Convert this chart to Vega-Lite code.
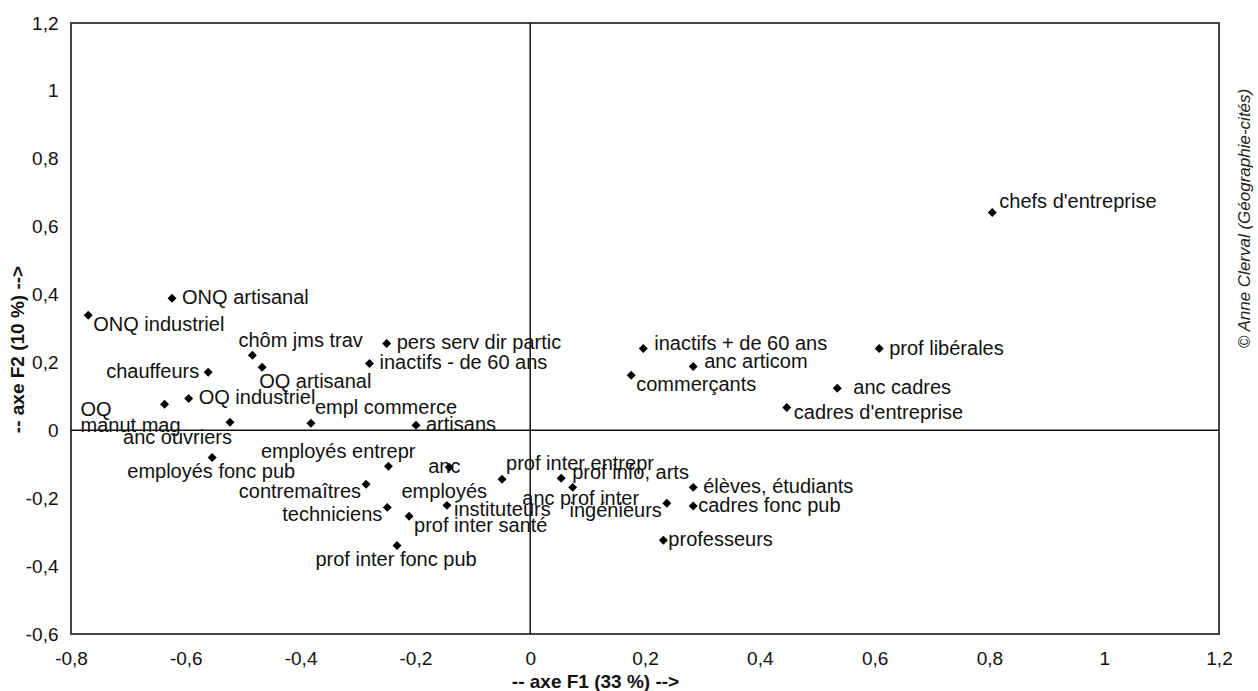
{
  "$schema": "https://vega.github.io/schema/vega-lite/v6.json",
  "autosize": "none",
  "width": 1148,
  "height": 611,
  "padding": {"left": 71, "top": 23, "right": 39, "bottom": 57},
  "background": "white",
  "title": {
    "text": "© Anne Clerval (Géographie-cités)",
    "orient": "right",
    "anchor": "middle",
    "frame": "group",
    "angle": 270,
    "baseline": "middle",
    "align": "center",
    "offset": -4,
    "dx": 110,
    "font": "Liberation Sans",
    "fontStyle": "italic",
    "fontWeight": "normal",
    "fontSize": 17,
    "color": "#222"
  },
  "datasets": {
    "pts": [
      {"label": "ONQ artisanal", "F1": -0.624, "F2": 0.389},
      {"label": "ONQ industriel", "F1": -0.77, "F2": 0.339},
      {"label": "chôm jms trav", "F1": -0.484, "F2": 0.221},
      {"label": "OQ artisanal", "F1": -0.467, "F2": 0.186},
      {"label": "chauffeurs", "F1": -0.561, "F2": 0.171},
      {"label": "pers serv dir partic", "F1": -0.25, "F2": 0.256},
      {"label": "inactifs - de 60 ans", "F1": -0.28, "F2": 0.197},
      {"label": "OQ\nmanut mag", "F1": -0.637, "F2": 0.077},
      {"label": "OQ industriel", "F1": -0.595, "F2": 0.094},
      {"label": "anc ouvriers", "F1": -0.523, "F2": 0.024},
      {"label": "empl commerce", "F1": -0.382, "F2": 0.021},
      {"label": "artisans", "F1": -0.199, "F2": 0.015},
      {"label": "employés fonc pub", "F1": -0.554, "F2": -0.08},
      {"label": "employés entrepr", "F1": -0.247, "F2": -0.106},
      {"label": "contremaîtres", "F1": -0.286, "F2": -0.159},
      {"label": "anc\nemployés", "F1": -0.141, "F2": -0.109},
      {"label": "techniciens", "F1": -0.249, "F2": -0.227},
      {"label": "prof inter santé", "F1": -0.211, "F2": -0.253},
      {"label": "instituteurs", "F1": -0.145, "F2": -0.221},
      {"label": "prof inter fonc pub", "F1": -0.232, "F2": -0.339},
      {"label": "prof inter entrepr", "F1": -0.049, "F2": -0.144},
      {"label": "prof info, arts", "F1": 0.054, "F2": -0.141},
      {"label": "anc prof inter", "F1": 0.074, "F2": -0.168},
      {"label": "ingénieurs", "F1": 0.238, "F2": -0.215},
      {"label": "élèves, étudiants", "F1": 0.284, "F2": -0.168},
      {"label": "cadres fonc pub", "F1": 0.284, "F2": -0.223},
      {"label": "professeurs", "F1": 0.232, "F2": -0.324},
      {"label": "inactifs + de 60 ans", "F1": 0.197, "F2": 0.241},
      {"label": "anc articom", "F1": 0.284, "F2": 0.188},
      {"label": "commerçants", "F1": 0.176, "F2": 0.162},
      {"label": "cadres d'entreprise", "F1": 0.447, "F2": 0.067},
      {"label": "anc cadres", "F1": 0.535, "F2": 0.124},
      {"label": "prof libérales", "F1": 0.608, "F2": 0.241},
      {"label": "chefs d'entreprise", "F1": 0.805, "F2": 0.642}
    ],
    "xticks": [
      {"t": -0.6}, {"t": -0.4}, {"t": -0.2}, {"t": 0.2}, {"t": 0.4}, {"t": 0.6}, {"t": 0.8}, {"t": 1.0}
    ],
    "yticks": [
      {"t": -0.4}, {"t": -0.2}, {"t": 0.2}, {"t": 0.4}, {"t": 0.6}, {"t": 0.8}, {"t": 1.0}
    ],
    "zero": [{"z": 0}]
  },
  "data": {"name": "pts"},
  "encoding": {
    "x": {
      "field": "F1",
      "type": "quantitative",
      "scale": {"domain": [-0.8, 1.2], "nice": false, "zero": false},
      "axis": {
        "values": [-0.8, -0.6, -0.4, -0.2, 0, 0.2, 0.4, 0.6, 0.8, 1, 1.2],
        "format": ".1~f",
        "labelExpr": "replace(replace(datum.label, '.', ','), '\u2212', '-')",
        "grid": false,
        "domain": false,
        "ticks": false,
        "labelFlush": false,
        "labelOverlap": false,
        "labelPadding": 15,
        "title": "-- axe F1 (33 %) -->",
        "titleX": 524,
        "titleY": 47,
        "titleBaseline": "middle"
      }
    },
    "y": {
      "field": "F2",
      "type": "quantitative",
      "scale": {"domain": [-0.6, 1.2], "nice": false, "zero": false},
      "axis": {
        "values": [-0.6, -0.4, -0.2, 0, 0.2, 0.4, 0.6, 0.8, 1, 1.2],
        "format": ".1~f",
        "labelExpr": "replace(replace(datum.label, '.', ','), '\u2212', '-')",
        "grid": false,
        "domain": false,
        "ticks": false,
        "labelFlush": false,
        "labelOverlap": false,
        "labelPadding": 13,
        "title": "-- axe F2 (10 %) -->",
        "titleX": -54,
        "titleY": 326,
        "titleBaseline": "middle",
        "titleAngle": 270
      }
    }
  },
  "layer": [
    {
      "data": {"name": "zero"},
      "mark": {"type": "rule", "color": "#111", "strokeWidth": 1.5},
      "encoding": {"x": {"field": "z", "type": "quantitative"}, "y": null}
    },
    {
      "data": {"name": "zero"},
      "mark": {"type": "rule", "color": "#111", "strokeWidth": 1.5},
      "encoding": {"y": {"field": "z", "type": "quantitative"}, "x": null}
    },
    {
      "data": {"name": "xticks"},
      "mark": {"type": "tick", "orient": "vertical", "color": "#111", "size": 9, "thickness": 1.5},
      "encoding": {"x": {"field": "t", "type": "quantitative"}, "y": {"datum": 0, "type": "quantitative"}}
    },
    {
      "data": {"name": "yticks"},
      "mark": {"type": "tick", "orient": "horizontal", "color": "#111", "size": 9, "thickness": 1.5},
      "encoding": {"y": {"field": "t", "type": "quantitative"}, "x": {"datum": 0, "type": "quantitative"}}
    },
    {
      "mark": {"type": "point", "shape": "diamond", "filled": true, "color": "#000", "size": 80, "opacity": 1}
    },
    {
      "transform": [{"filter": {"field": "label", "oneOf": ["ONQ artisanal", "pers serv dir partic", "inactifs - de 60 ans", "OQ industriel", "artisans", "élèves, étudiants", "prof libérales"]}}],
      "mark": {"type": "text", "align": "left", "baseline": "middle", "dx": 10, "dy": 0},
      "encoding": {"text": {"field": "label"}}
    },
    {
      "transform": [{"filter": {"field": "label", "oneOf": ["prof info, arts", "anc articom", "inactifs + de 60 ans"]}}],
      "mark": {"type": "text", "align": "left", "baseline": "middle", "dx": 11, "dy": -5},
      "encoding": {"text": {"field": "label"}}
    },
    {
      "transform": [{"filter": {"field": "label", "oneOf": ["cadres fonc pub", "professeurs"]}}],
      "mark": {"type": "text", "align": "left", "baseline": "middle", "dx": 5, "dy": 0},
      "encoding": {"text": {"field": "label"}}
    },
    {
      "transform": [{"filter": {"field": "label", "oneOf": ["instituteurs", "cadres d'entreprise"]}}],
      "mark": {"type": "text", "align": "left", "baseline": "middle", "dx": 7, "dy": 5},
      "encoding": {"text": {"field": "label"}}
    },
    {
      "transform": [{"filter": {"field": "label", "oneOf": ["ONQ industriel", "commerçants", "prof inter santé"]}}],
      "mark": {"type": "text", "align": "left", "baseline": "middle", "dx": 5, "dy": 10},
      "encoding": {"text": {"field": "label"}}
    },
    {
      "transform": [{"filter": {"field": "label", "oneOf": ["OQ artisanal"]}}],
      "mark": {"type": "text", "align": "left", "baseline": "middle", "dx": -3, "dy": 15},
      "encoding": {"text": {"field": "label"}}
    },
    {
      "transform": [{"filter": {"field": "label", "oneOf": ["empl commerce", "prof inter entrepr"]}}],
      "mark": {"type": "text", "align": "left", "baseline": "middle", "dx": 4, "dy": -15},
      "encoding": {"text": {"field": "label"}}
    },
    {
      "transform": [{"filter": {"field": "label", "oneOf": ["chefs d'entreprise"]}}],
      "mark": {"type": "text", "align": "left", "baseline": "middle", "dx": 7, "dy": -10},
      "encoding": {"text": {"field": "label"}}
    },
    {
      "transform": [{"filter": {"field": "label", "oneOf": ["anc cadres"]}}],
      "mark": {"type": "text", "align": "left", "baseline": "middle", "dx": 16, "dy": 0},
      "encoding": {"text": {"field": "label"}}
    },
    {
      "transform": [{"filter": {"field": "label", "oneOf": ["chauffeurs"]}}],
      "mark": {"type": "text", "align": "right", "baseline": "middle", "dx": -9, "dy": 0},
      "encoding": {"text": {"field": "label"}}
    },
    {
      "transform": [{"filter": {"field": "label", "oneOf": ["contremaîtres", "techniciens", "ingénieurs"]}}],
      "mark": {"type": "text", "align": "right", "baseline": "middle", "dx": -5, "dy": 8},
      "encoding": {"text": {"field": "label"}}
    },
    {
      "transform": [{"filter": {"field": "label", "oneOf": ["employés fonc pub", "prof inter fonc pub"]}}],
      "mark": {"type": "text", "align": "center", "baseline": "middle", "dx": -1, "dy": 15},
      "encoding": {"text": {"field": "label"}}
    },
    {
      "transform": [{"filter": {"field": "label", "oneOf": ["anc prof inter"]}}],
      "mark": {"type": "text", "align": "center", "baseline": "middle", "dx": 8, "dy": 12},
      "encoding": {"text": {"field": "label"}}
    },
    {
      "transform": [{"filter": {"field": "label", "oneOf": ["employés entrepr"]}}],
      "mark": {"type": "text", "align": "right", "baseline": "middle", "dx": 27, "dy": -14},
      "encoding": {"text": {"field": "label"}}
    },
    {
      "transform": [{"filter": {"field": "label", "oneOf": ["anc ouvriers"]}}],
      "mark": {"type": "text", "align": "right", "baseline": "middle", "dx": 2, "dy": 16},
      "encoding": {"text": {"field": "label"}}
    },
    {
      "transform": [{"filter": {"field": "label", "oneOf": ["chôm jms trav"]}}],
      "mark": {"type": "text", "align": "left", "baseline": "middle", "dx": -14, "dy": -14},
      "encoding": {"text": {"field": "label"}}
    },
    {
      "transform": [{"filter": {"field": "label", "oneOf": ["OQ\nmanut mag"]}}],
      "mark": {"type": "text", "align": "left", "baseline": "middle", "dx": -84, "dy": 6, "lineBreak": "\n", "lineHeight": 16},
      "encoding": {"text": {"field": "label"}}
    },
    {
      "transform": [{"filter": {"field": "label", "oneOf": ["anc\nemployés"]}}],
      "mark": {"type": "text", "align": "center", "baseline": "middle", "dx": -5, "dy": 0, "lineBreak": "\n", "lineHeight": 25},
      "encoding": {"text": {"field": "label"}}
    }
  ],
  "config": {
    "view": {"stroke": "#444", "strokeWidth": 2},
    "text": {"font": "Liberation Sans", "fontSize": 20, "fill": "#111"},
    "axis": {
      "labelFont": "Liberation Sans",
      "labelFontSize": 19,
      "labelColor": "#111",
      "titleFont": "Liberation Sans",
      "titleFontSize": 19,
      "titleFontWeight": "bold",
      "titleColor": "#111"
    }
  }
}
